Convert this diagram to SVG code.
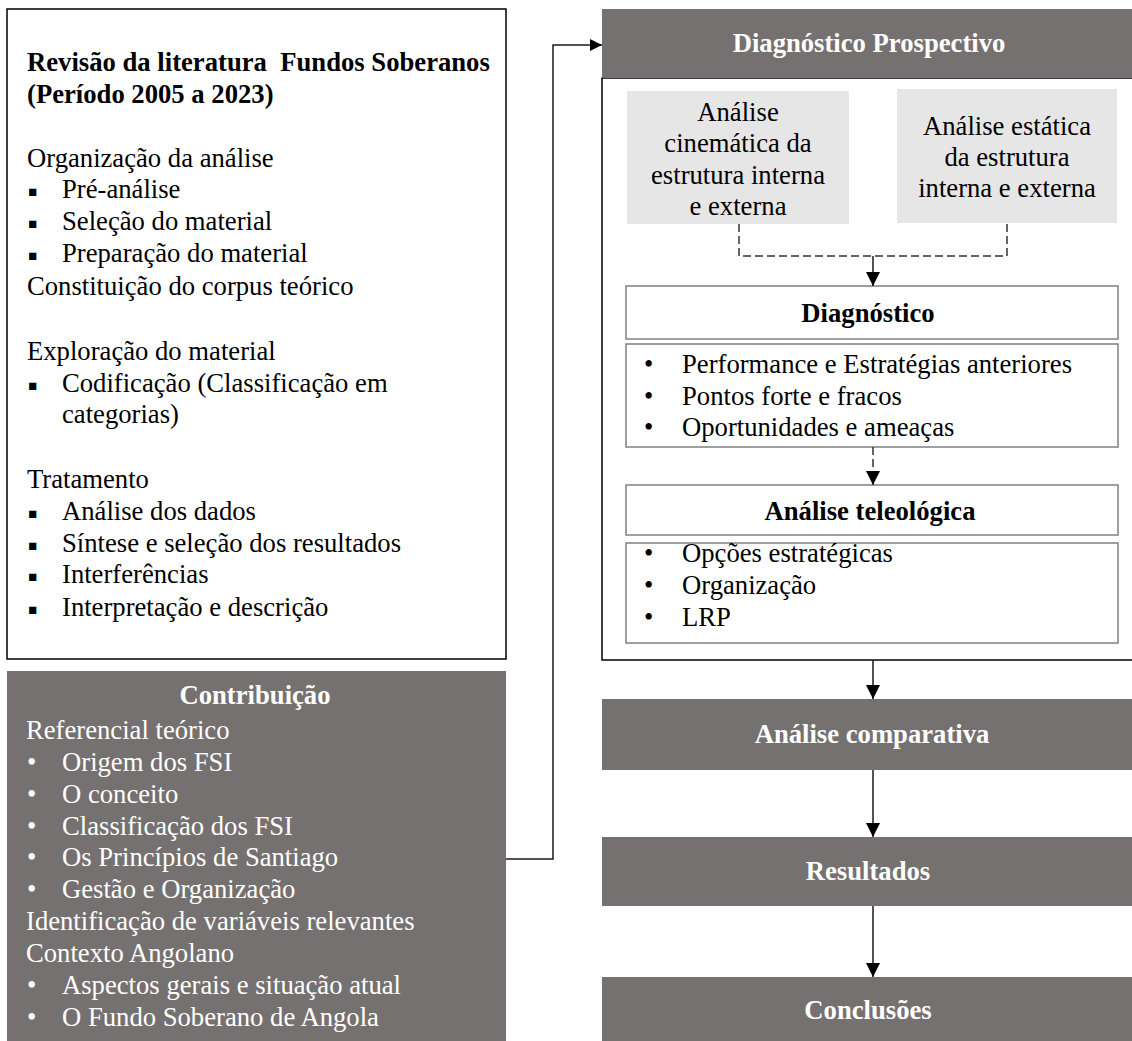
<svg xmlns="http://www.w3.org/2000/svg" width="1132" height="1041" viewBox="0 0 1132 1041">
  <style>
    text { font-family: "Liberation Serif", "Times New Roman", serif; font-size: 26.67px; fill: #000; }
    .b { font-weight: bold; }
    .w { fill: #fff; }
    .c { text-anchor: middle; }
    .pre { white-space: pre; }
    .sq { font-family: "DejaVu Sans", sans-serif; font-size: 14.5px; }
    .dark { fill: #767171; }
    .light { fill: #e7e6e6; }
    .inner { fill: #fff; stroke: #808080; stroke-width: 1.5; }
    .conn { fill: none; stroke: #1a1a1a; stroke-width: 1.5; }
    .dash { fill: none; stroke: #333; stroke-width: 1.5; stroke-dasharray: 8 4; }
  </style>
  <defs>
    <marker id="arrow" viewBox="0 0 10 10" refX="10" refY="5" markerWidth="15" markerHeight="14" markerUnits="userSpaceOnUse" orient="auto">
      <path d="M0,0 L10,5 L0,10 z" fill="#000"/>
    </marker>
    <marker id="arrowS" viewBox="0 0 10 10" refX="10" refY="5" markerWidth="16" markerHeight="12" markerUnits="userSpaceOnUse" orient="auto">
      <path d="M0,0 L10,5 L0,10 z" fill="#000"/>
    </marker>
  </defs>

  <rect width="1132" height="1041" fill="#fff"/>

  <!-- Literature review box -->
  <g id="revisao">
    <rect x="7" y="9" width="499" height="650" fill="#fff" stroke="#000" stroke-width="1.5"/>
    <text x="27" y="71" class="b pre">Revisão da literatura  Fundos Soberanos</text>
    <text x="27" y="103" class="b">(Período 2005 a 2023)</text>
    <text x="27" y="167">Organização da análise</text>
    <text x="28" y="196" class="sq">▪</text><text x="62" y="198">Pré-análise</text>
    <text x="28" y="228" class="sq">▪</text><text x="62" y="230">Seleção do material</text>
    <text x="28" y="260" class="sq">▪</text><text x="62" y="262">Preparação do material</text>
    <text x="27" y="295">Constituição do corpus teórico</text>
    <text x="27" y="360">Exploração do material</text>
    <text x="28" y="390" class="sq">▪</text><text x="62" y="392">Codificação (Classificação em</text>
    <text x="62" y="423">categorias)</text>
    <text x="27" y="488">Tratamento</text>
    <text x="28" y="518" class="sq">▪</text><text x="62" y="520">Análise dos dados</text>
    <text x="28" y="550" class="sq">▪</text><text x="62" y="552">Síntese e seleção dos resultados</text>
    <text x="28" y="581" class="sq">▪</text><text x="62" y="583">Interferências</text>
    <text x="28" y="614" class="sq">▪</text><text x="62" y="616">Interpretação e descrição</text>
  </g>

  <!-- Contribution box -->
  <g id="contribuicao">
    <rect x="7" y="671" width="499" height="375" class="dark"/>
    <text x="255" y="704" class="b w c">Contribuição</text>
    <text x="26" y="739" class="w">Referencial teórico</text>
    <text x="27" y="771" class="w">•</text><text x="62" y="771" class="w">Origem dos FSI</text>
    <text x="27" y="803" class="w">•</text><text x="62" y="803" class="w">O conceito</text>
    <text x="27" y="835" class="w">•</text><text x="62" y="835" class="w">Classificação dos FSI</text>
    <text x="27" y="866" class="w">•</text><text x="62" y="866" class="w">Os Princípios de Santiago</text>
    <text x="27" y="898" class="w">•</text><text x="62" y="898" class="w">Gestão e Organização</text>
    <text x="26" y="930" class="w">Identificação de variáveis relevantes</text>
    <text x="26" y="962" class="w">Contexto Angolano</text>
    <text x="27" y="994" class="w">•</text><text x="62" y="994" class="w">Aspectos gerais e situação atual</text>
    <text x="27" y="1026" class="w">•</text><text x="62" y="1026" class="w">O Fundo Soberano de Angola</text>
  </g>

  <!-- Prospective diagnosis frame -->
  <g id="diagnostico-prospectivo">
    <rect x="602" y="78" width="540" height="582" fill="#fff" stroke="#000" stroke-width="1.5"/>
    <rect x="602" y="9" width="530" height="69" class="dark"/>
    <text x="869" y="52" class="b w c">Diagnóstico Prospectivo</text>
  </g>

  <g id="analise-cinematica">
    <rect x="627" y="91" width="222" height="133" class="light"/>
    <text x="738" y="121" class="c">Análise</text>
    <text x="738" y="152" class="c">cinemática da</text>
    <text x="738" y="184" class="c">estrutura interna</text>
    <text x="738" y="215" class="c">e externa</text>
  </g>

  <g id="analise-estatica">
    <rect x="897" y="89" width="220" height="134" class="light"/>
    <text x="1007" y="135" class="c">Análise estática</text>
    <text x="1007" y="166" class="c">da estrutura</text>
    <text x="1007" y="197" class="c">interna e externa</text>
  </g>

  <g id="diagnostico">
    <rect x="626" y="286" width="492" height="53" class="inner"/>
    <text x="868" y="322" class="b c">Diagnóstico</text>
  </g>

  <g id="diagnostico-itens">
    <rect x="626" y="344" width="492" height="103" class="inner"/>
    <text x="644" y="373">•</text><text x="682" y="373">Performance e Estratégias anteriores</text>
    <text x="644" y="405">•</text><text x="682" y="405">Pontos forte e fracos</text>
    <text x="644" y="436">•</text><text x="682" y="436">Oportunidades e ameaças</text>
  </g>

  <g id="analise-teleologica">
    <rect x="626" y="485" width="492" height="50" class="inner"/>
    <text x="870" y="520" class="b c">Análise teleológica</text>
  </g>

  <g id="teleologica-itens">
    <rect x="626" y="543" width="492" height="100" class="inner"/>
    <text x="644" y="562">•</text><text x="682" y="562">Opções estratégicas</text>
    <text x="644" y="594">•</text><text x="682" y="594">Organização</text>
    <text x="644" y="626">•</text><text x="682" y="626">LRP</text>
  </g>

  <g id="analise-comparativa">
    <rect x="602" y="699" width="530" height="71" class="dark"/>
    <text x="872" y="743" class="b w c">Análise comparativa</text>
  </g>

  <g id="resultados">
    <rect x="602" y="837" width="530" height="69" class="dark"/>
    <text x="868" y="880" class="b w c">Resultados</text>
  </g>

  <g id="conclusoes">
    <rect x="602" y="977" width="530" height="70" class="dark"/>
    <text x="868" y="1019" class="b w c">Conclusões</text>
  </g>

  <!-- Connectors -->
  <g id="connectors">
    <path class="conn" d="M506,859 H553 V45 H602" marker-end="url(#arrowS)"/>
    <path class="dash" d="M739,224 V256 H1007 V223"/>
    <path class="conn" d="M873,256 V286" marker-end="url(#arrow)"/>
    <path class="dash" d="M873,447 V485" stroke-dasharray="6 4" marker-end="url(#arrow)"/>
    <path class="conn" d="M873,660 V699" marker-end="url(#arrow)"/>
    <path class="conn" d="M873,770 V837" marker-end="url(#arrow)"/>
    <path class="conn" d="M873,906 V977" stroke="#555" marker-end="url(#arrow)"/>
  </g>
</svg>
